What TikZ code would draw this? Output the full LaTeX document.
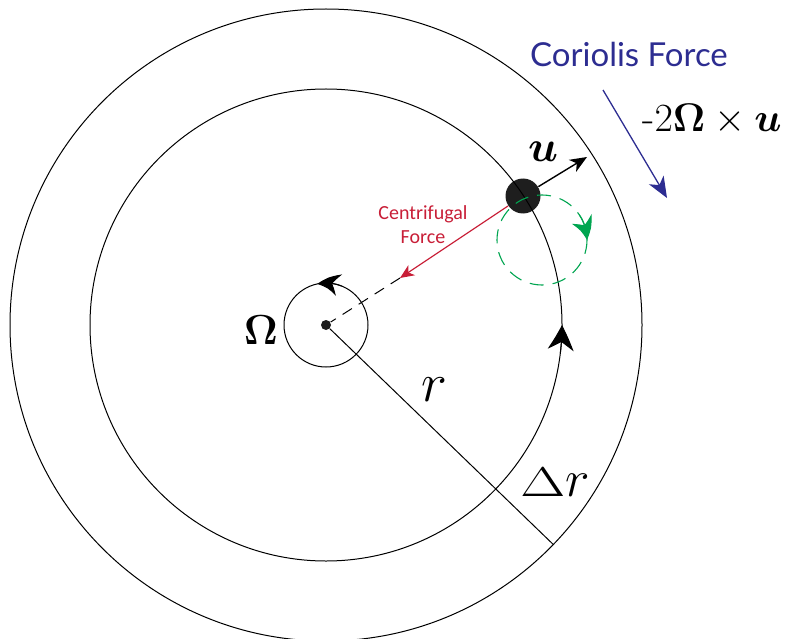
\documentclass[tikz,border=0pt]{standalone}
\usepackage{fix-cm}
\usepackage{fontspec}
\usepackage{bm}
\usetikzlibrary{arrows.meta,bending}
\newfontfamily\corfont{Lato}
\newfontfamily\cenfont{Carlito}
\definecolor{cred}{RGB}{200,30,55}
\definecolor{cblue}{RGB}{45,45,145}
\definecolor{cgreen}{RGB}{0,165,80}
\definecolor{dotc}{RGB}{30,30,30}
\begin{document}
\begin{tikzpicture}[x=1pt,y=-1pt,line width=1pt,
  ring/.style={draw,line width=1pt},
  bigtip/.style={-{Stealth[length=25pt,width=26pt,inset=8pt,bend]}},
  midtip/.style={-{Stealth[length=22pt,width=22pt,inset=7pt,bend]}},
  dotnode/.style={circle,fill=dotc,inner sep=0pt}]
\useasboundingbox (0,0) rectangle (792,639);
\clip (0,0) rectangle (792,639);

% nodes
\node[dotnode,minimum size=10pt] (O) at (326,325) {};
\node[dotnode,minimum size=35pt] (P) at (523,196) {};
\coordinate (G) at (542,240);
\coordinate (E) at (553.3,544.5);
\coordinate (R) at (400,278);
\coordinate (U) at (587,157);
\coordinate (B1) at (603,90);
\coordinate (B2) at (667,198);

% circles
\draw[ring] (O.center) circle[radius=316];
\draw[ring] (O.center) circle[radius=236];
\draw[ring] (O.center) circle[radius=42];

% circulation arrowheads
\draw[bigtip] (O.center) ++(7:236) arc[start angle=7,end angle=0,radius=236];
\draw[midtip] (O.center) ++(-68:42) arc[start angle=-68,end angle=-102,radius=42];

% green eddy
\draw[cgreen,line width=1.1pt,dash pattern=on 14pt off 9pt] (G) circle[radius=45];
\draw[cgreen,line width=1.1pt,midtip] (G) ++(-34:45) arc[start angle=-34,end angle=0,radius=45];

% radius line
\draw[line width=1pt] (O) -- (E);

% centrifugal
\draw[cred,line width=1.2pt,-{Stealth[length=14pt,width=12pt,inset=4pt]}] (P) -- (R);
\draw[line width=1pt,dash pattern=on 11pt off 8pt] (R) -- (O);

% velocity
\draw[line width=1.4pt,-{Stealth[length=17pt,width=14pt,inset=5pt]}] (P) -- (U);

% coriolis
\draw[cblue,line width=1.3pt,-{Stealth[length=21pt,width=17pt,inset=6pt]}] (B1) -- (B2);

% labels
\node[text=cblue,font=\corfont\fontsize{33}{33}\selectfont] (cor) at (629,54) {Coriolis Force};
\node (form) at (712,119) {\fontsize{40}{40}\selectfont -$2\bm{\Omega}\times\bm{u}$};
\node (Om) at (261,330) {\fontsize{42}{42}\selectfont$\bm{\Omega}$};
\node (ul) at (543,152) {\fontsize{44}{44}\selectfont$\bm{u}$};
\node (rl) at (434,390) {\fontsize{55}{55}\selectfont$r$};
\node (dr) at (555,482) {\fontsize{52}{52}\selectfont\scalebox{1.12}[0.8]{$\Delta$}$r$};
\node[text=cred,font=\cenfont\fontsize{20}{24}\selectfont,align=center] (cf) at (423,225) {Centrifugal\\Force};
\end{tikzpicture}
\end{document}
